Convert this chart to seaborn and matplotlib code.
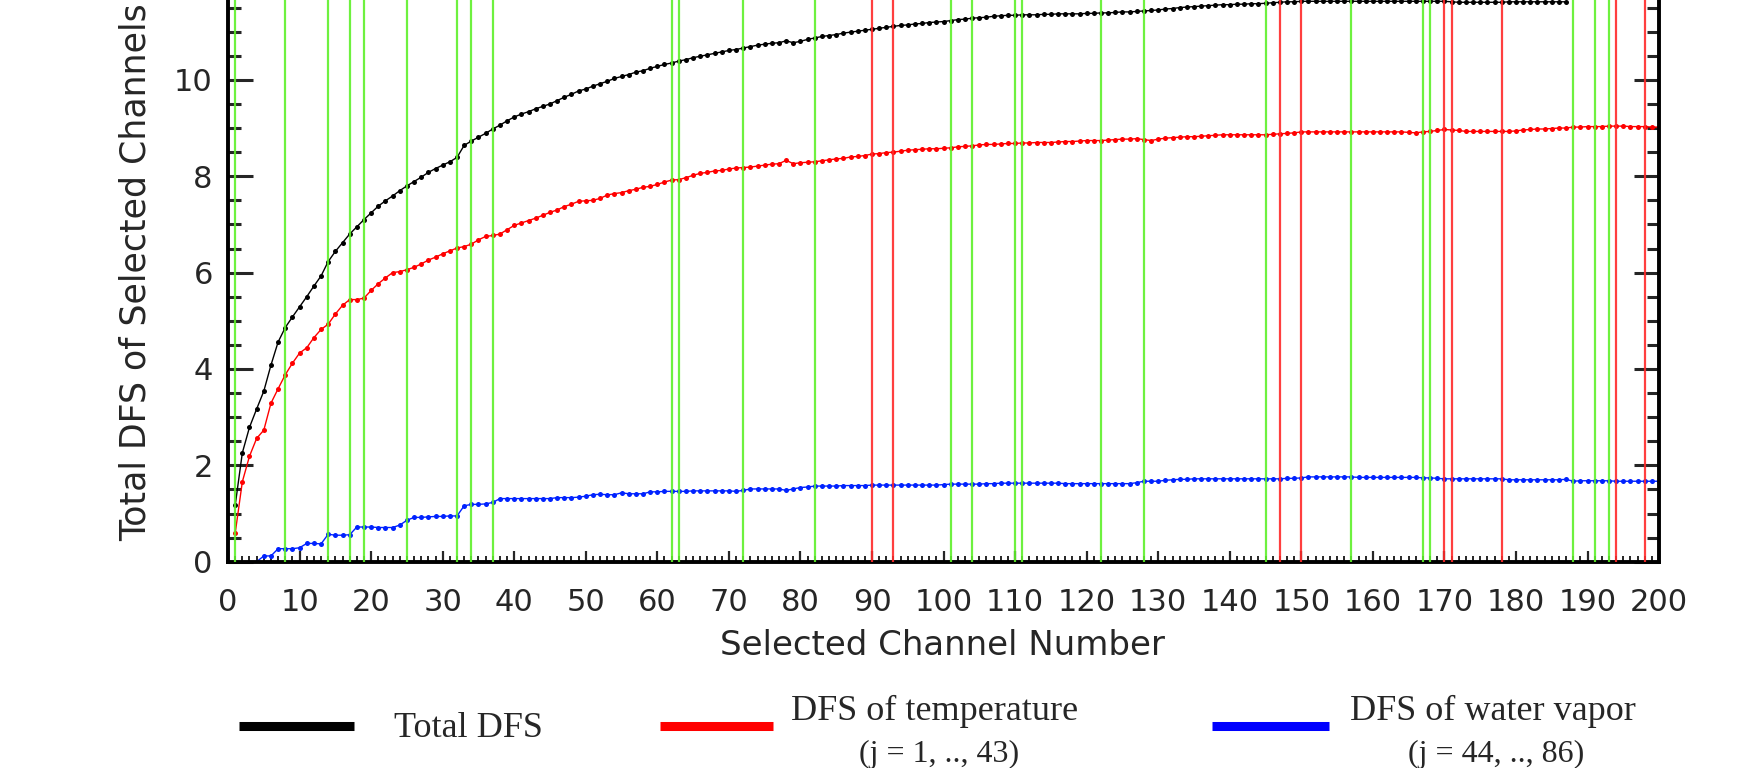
import matplotlib
matplotlib.use("Agg")
import matplotlib.pyplot as plt
from matplotlib.lines import Line2D
from matplotlib.ticker import MultipleLocator
import seaborn as sns

# channel numbers of each curve
black_channels = list(range(1, 188))
red_channels = list(range(1, 201))
blue_channels = list(range(4, 201))

# Total DFS
total_dfs = [
    1.17, 2.26, 2.79, 3.17, 3.54, 4.08, 4.56, 4.86, 5.08, 5.29,
    5.50, 5.72, 5.93, 6.23, 6.44, 6.62, 6.80, 6.95, 7.10, 7.24,
    7.38, 7.49, 7.59, 7.70, 7.80, 7.89, 7.98, 8.08, 8.16, 8.23,
    8.30, 8.39, 8.64, 8.73, 8.81, 8.89, 8.98, 9.06, 9.15, 9.23,
    9.29, 9.34, 9.40, 9.45, 9.50, 9.57, 9.64, 9.70, 9.77, 9.81,
    9.87, 9.92, 9.97, 10.03, 10.07, 10.11, 10.16, 10.19, 10.24, 10.28,
    10.32, 10.35, 10.39, 10.42, 10.46, 10.49, 10.52, 10.55, 10.58, 10.61,
    10.63, 10.66, 10.69, 10.72, 10.74, 10.76, 10.77, 10.81, 10.77, 10.80,
    10.84, 10.87, 10.90, 10.92, 10.94, 10.97, 10.99, 11.01, 11.03, 11.05,
    11.07, 11.09, 11.11, 11.13, 11.14, 11.16, 11.17, 11.19, 11.20, 11.21,
    11.23, 11.25, 11.26, 11.28, 11.29, 11.30, 11.32, 11.33, 11.34, 11.34,
    11.35, 11.35, 11.35, 11.36, 11.36, 11.37, 11.37, 11.37, 11.37, 11.38,
    11.38, 11.39, 11.39, 11.40, 11.41, 11.41, 11.42, 11.43, 11.44, 11.45,
    11.47, 11.48, 11.50, 11.51, 11.52, 11.53, 11.54, 11.55, 11.56, 11.56,
    11.57, 11.57, 11.58, 11.58, 11.59, 11.60, 11.61, 11.62, 11.62, 11.63,
    11.63, 11.63, 11.63, 11.63, 11.63, 11.63, 11.63, 11.63, 11.63, 11.63,
    11.63, 11.63, 11.63, 11.63, 11.63, 11.63, 11.63, 11.63, 11.63, 11.63,
    11.62, 11.61, 11.61, 11.61, 11.61, 11.61, 11.61, 11.61, 11.62, 11.62,
    11.62, 11.62, 11.62, 11.62, 11.62, 11.62, 11.62,
]

# DFS of temperature
temp_dfs = [
    0.59, 1.66, 2.19, 2.56, 2.73, 3.29, 3.59, 3.88, 4.12, 4.33,
    4.44, 4.65, 4.82, 4.93, 5.14, 5.32, 5.44, 5.44, 5.47, 5.63,
    5.77, 5.89, 6.00, 6.02, 6.06, 6.11, 6.18, 6.26, 6.32, 6.39,
    6.45, 6.51, 6.54, 6.59, 6.68, 6.75, 6.77, 6.80, 6.89, 6.98,
    7.03, 7.08, 7.13, 7.19, 7.25, 7.30, 7.37, 7.42, 7.48, 7.49,
    7.50, 7.54, 7.61, 7.64, 7.66, 7.70, 7.73, 7.77, 7.79, 7.83,
    7.88, 7.92, 7.93, 7.97, 8.02, 8.06, 8.08, 8.11, 8.12, 8.15,
    8.17, 8.18, 8.19, 8.21, 8.23, 8.25, 8.26, 8.33, 8.26, 8.28,
    8.29, 8.30, 8.32, 8.34, 8.36, 8.37, 8.40, 8.41, 8.43, 8.46,
    8.47, 8.49, 8.50, 8.52, 8.54, 8.55, 8.56, 8.57, 8.57, 8.58,
    8.59, 8.61, 8.62, 8.63, 8.65, 8.66, 8.66, 8.67, 8.68, 8.68,
    8.69, 8.69, 8.70, 8.70, 8.70, 8.71, 8.72, 8.72, 8.73, 8.74,
    8.74, 8.74, 8.75, 8.76, 8.77, 8.77, 8.78, 8.76, 8.74, 8.77,
    8.79, 8.80, 8.81, 8.82, 8.82, 8.83, 8.84, 8.85, 8.86, 8.86,
    8.86, 8.86, 8.86, 8.86, 8.86, 8.87, 8.88, 8.89, 8.90, 8.92,
    8.92, 8.92, 8.92, 8.92, 8.92, 8.92, 8.92, 8.92, 8.92, 8.92,
    8.92, 8.92, 8.92, 8.92, 8.91, 8.90, 8.92, 8.93, 8.95, 8.97,
    8.96, 8.95, 8.93, 8.93, 8.93, 8.93, 8.93, 8.93, 8.93, 8.94,
    8.96, 8.97, 8.98, 8.98, 8.99, 9.00, 9.00, 9.02, 9.02, 9.03,
    9.03, 9.03, 9.04, 9.04, 9.04, 9.03, 9.03, 9.03, 9.02, 9.02,
]

# DFS of water vapor
wv_dfs = [
    0.00, 0.12, 0.12, 0.27, 0.27, 0.27, 0.29,
    0.38, 0.38, 0.37, 0.57, 0.55, 0.55, 0.56, 0.72, 0.72, 0.72,
    0.71, 0.71, 0.71, 0.76, 0.86, 0.92, 0.92, 0.93, 0.94, 0.94,
    0.95, 0.95, 1.16, 1.19, 1.19, 1.20, 1.23, 1.31, 1.31, 1.31,
    1.31, 1.31, 1.31, 1.31, 1.31, 1.33, 1.33, 1.33, 1.34, 1.36,
    1.39, 1.40, 1.39, 1.39, 1.43, 1.41, 1.41, 1.41, 1.45, 1.45,
    1.46, 1.46, 1.46, 1.46, 1.47, 1.47, 1.47, 1.47, 1.47, 1.47,
    1.46, 1.48, 1.51, 1.51, 1.51, 1.51, 1.51, 1.48, 1.51, 1.54,
    1.55, 1.57, 1.57, 1.57, 1.57, 1.58, 1.58, 1.58, 1.58, 1.59,
    1.59, 1.59, 1.59, 1.59, 1.59, 1.59, 1.59, 1.59, 1.59, 1.60,
    1.61, 1.61, 1.61, 1.61, 1.61, 1.62, 1.62, 1.63, 1.63, 1.63,
    1.63, 1.63, 1.63, 1.63, 1.63, 1.63, 1.62, 1.62, 1.62, 1.62,
    1.62, 1.62, 1.62, 1.62, 1.62, 1.62, 1.64, 1.67, 1.67, 1.67,
    1.69, 1.70, 1.71, 1.71, 1.72, 1.72, 1.72, 1.72, 1.72, 1.72,
    1.72, 1.72, 1.72, 1.72, 1.72, 1.72, 1.72, 1.73, 1.73, 1.74,
    1.76, 1.76, 1.76, 1.76, 1.76, 1.76, 1.76, 1.75, 1.75, 1.75,
    1.75, 1.75, 1.75, 1.75, 1.75, 1.75, 1.74, 1.74, 1.73, 1.72,
    1.72, 1.72, 1.72, 1.72, 1.72, 1.72, 1.72, 1.72, 1.70, 1.70,
    1.70, 1.70, 1.70, 1.70, 1.70, 1.70, 1.71, 1.67, 1.68, 1.68,
    1.68, 1.68, 1.68, 1.67, 1.67, 1.67, 1.67, 1.67, 1.67, 1.67,
]

# selected channel markers
green_lines = [1, 8, 14, 17, 19, 25, 32, 34, 37, 62, 63, 72, 82, 101, 104,
               110, 111, 122, 128, 145, 157, 167, 168, 188, 191, 193]
red_lines = [90, 93, 147, 150, 170, 171, 178, 194, 198]

sns.set_style("ticks")
plt.rcParams['font.family'] = ['DejaVu Sans']

fig = plt.figure(figsize=(17.42, 7.68), dpi=100)
# the plot's top edge runs past the top of the image, as in the original
ax = fig.add_axes([0.1309, 0.2686, 0.8215, 0.7529])

for ch in green_lines:
    ax.axvline(ch, color='#5ef02a', lw=1.6, alpha=0.9, zorder=3)
for ch in red_lines:
    ax.axvline(ch, color='#ff2a2a', lw=1.6, alpha=0.9, zorder=3)

sns.lineplot(x=black_channels, y=total_dfs, color='black', lw=1.0,
             marker='o', markersize=3.6, markeredgewidth=0, ax=ax, zorder=2)
sns.lineplot(x=red_channels, y=temp_dfs, color='#ff0000', lw=1.0,
             marker='o', markersize=3.6, markeredgewidth=0, ax=ax, zorder=2)
sns.lineplot(x=blue_channels, y=wv_dfs, color='#0022ff', lw=1.0,
             marker='o', markersize=3.6, markeredgewidth=0, ax=ax, zorder=2)

ax.set_xlim(0, 200)
ax.set_ylim(0, 12)
ax.xaxis.set_major_locator(MultipleLocator(10))
ax.xaxis.set_minor_locator(MultipleLocator(1))
ax.yaxis.set_major_locator(MultipleLocator(2))
ax.yaxis.set_minor_locator(MultipleLocator(0.5))

for s in ax.spines.values():
    s.set_linewidth(2.8)
    s.set_color('black')
    s.set_visible(True)

ax.tick_params(axis='x', which='major', direction='in', length=8, width=1.6,
               top=True, labelsize=22, pad=19)
ax.tick_params(axis='x', which='minor', direction='in', length=4, width=1.4,
               top=True)
ax.tick_params(axis='y', which='major', direction='in', length=18, width=2.2,
               right=True, labelsize=22, pad=11)
ax.tick_params(axis='y', which='minor', direction='in', length=9, width=2.2,
               right=True)

ax.set_xlabel('Selected Channel Number', fontsize=24.5)
ax.set_ylabel('Total DFS of Selected Channels', fontsize=25)
ax.xaxis.set_label_coords(0.499, -0.116)
ax.yaxis.set_label_coords(-0.053, 0.5)

# legend below the plot
serif = 'Liberation Serif'
entries = [
    ('black', 0.137, 0.203, 'Total DFS', None, 0.226, 0.051),
    ('#ff0000', 0.379, 0.444, 'DFS of temperature', '(j = 1, .., 43)', 0.454, 0.539),
    ('#0000ff', 0.696, 0.763, 'DFS of water vapor', '(j = 44, .., 86)', 0.775, 0.859),
]
for color, x0, x1, label, sub, tx, sx in entries:
    fig.add_artist(Line2D([x0, x1], [0.055, 0.055], color=color, lw=6.5,
                          solid_capstyle='butt', transform=fig.transFigure))
    if sub is None:
        fig.text(tx, 0.051, label, family=serif, fontsize=26, va='center')
    else:
        fig.text(tx, 0.074, label, family=serif, fontsize=26, va='center')
        fig.text(sx, 0.017, sub, family=serif, fontsize=23, va='center', ha='center')

fig.savefig('out.png', dpi=100)
